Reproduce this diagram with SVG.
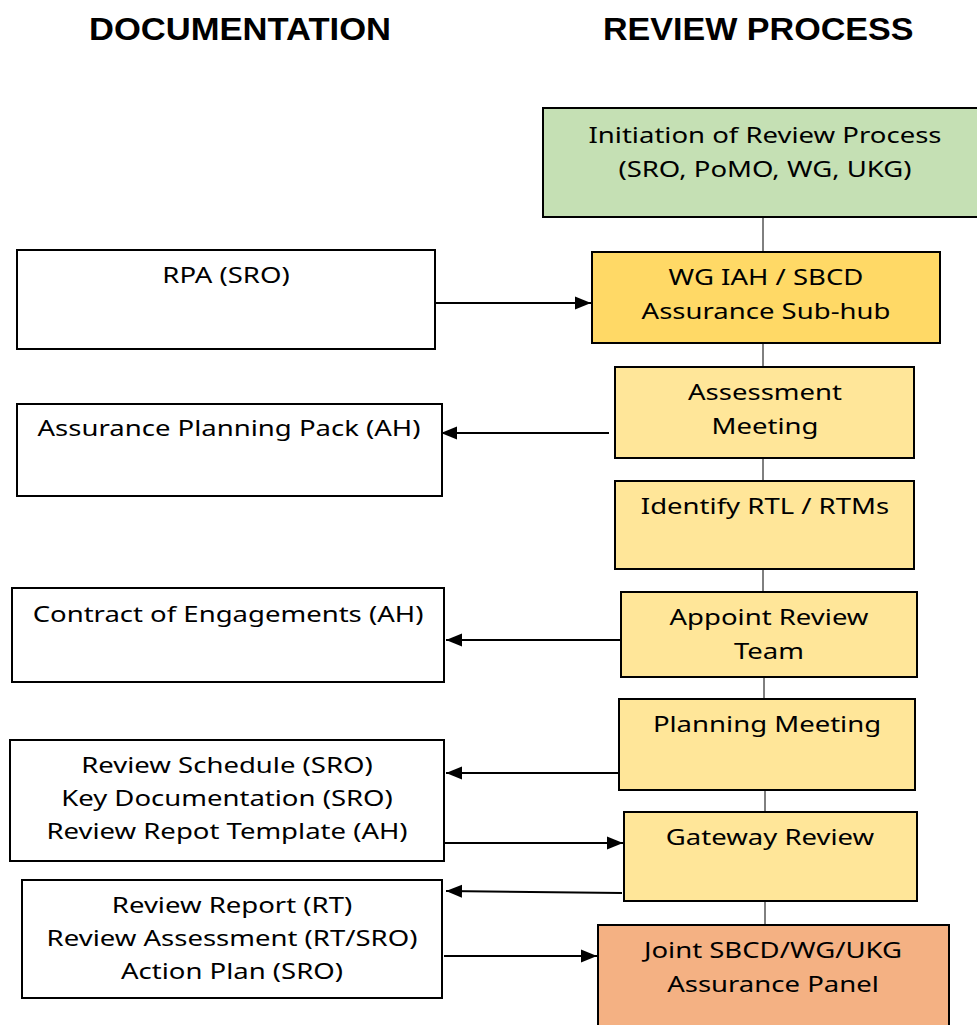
<svg xmlns="http://www.w3.org/2000/svg" width="977" height="1025" viewBox="0 0 977 1025">
<defs>
<style>
.h{font-family:"Liberation Sans",Arial,sans-serif;font-weight:bold;font-size:32px;fill:#000}
.t{font-family:"Noto Sans","Open Sans",sans-serif;font-size:21px;fill:#000;text-anchor:middle}
.b{stroke:#000;stroke-width:2}
.c{stroke:#000;stroke-width:2;fill:none}
.v{stroke:#000;stroke-width:1;fill:none}
</style>
<marker id="ah" markerWidth="16" markerHeight="14" refX="16" refY="7" orient="auto" markerUnits="userSpaceOnUse">
<path d="M0,0.5 L16,7 L0,13.5 z" fill="#000"/>
</marker>
</defs>
<rect width="977" height="1025" fill="#fff"/>
<text class="h" transform="translate(89,40) scale(1.08,1)">DOCUMENTATION</text>
<text class="h" transform="translate(603,40) scale(1.065,1)">REVIEW PROCESS</text>

<g id="connectors">
<path class="v" d="M763 217 V252 M763 343 V367 M763 458 V481 M763 569 V592 M764 677 V699 M765 790 V812 M765 901 V925"/>
<path class="c" d="M435 303 H591" marker-end="url(#ah)"/>
<path class="c" d="M609 433 H441" marker-end="url(#ah)"/>
<path class="c" d="M624 640 H446" marker-end="url(#ah)"/>
<path class="c" d="M622 773 H446" marker-end="url(#ah)"/>
<path class="c" d="M444 843 H623" marker-end="url(#ah)"/>
<path class="c" d="M622 893 L446 891" marker-end="url(#ah)"/>
<path class="c" d="M444 956 H597" marker-end="url(#ah)"/>
</g>

<g id="init"><rect class="b" x="543" y="108" width="440" height="109" fill="#c5e0b4"/>
<text class="t" transform="translate(765,143) scale(1.31,1)">Initiation of Review Process</text>
<text class="t" transform="translate(765,177) scale(1.31,1)">(SRO, PoMO, WG, UKG)</text></g>

<g id="hub"><rect class="b" x="592" y="252" width="348" height="91" fill="#ffd966"/>
<text class="t" transform="translate(766,285) scale(1.31,1)">WG IAH / SBCD</text>
<text class="t" transform="translate(766,319) scale(1.31,1)">Assurance Sub-hub</text></g>

<g id="assess"><rect class="b" x="615" y="367" width="299" height="91" fill="#ffe699"/>
<text class="t" transform="translate(765,400) scale(1.31,1)">Assessment</text>
<text class="t" transform="translate(765,434) scale(1.31,1)">Meeting</text></g>

<g id="identify"><rect class="b" x="615" y="481" width="299" height="88" fill="#ffe699"/>
<text class="t" transform="translate(765,514) scale(1.31,1)">Identify RTL / RTMs</text></g>

<g id="appoint"><rect class="b" x="621" y="592" width="296" height="85" fill="#ffe699"/>
<text class="t" transform="translate(769,625) scale(1.31,1)">Appoint Review</text>
<text class="t" transform="translate(769,659) scale(1.31,1)">Team</text></g>

<g id="planning"><rect class="b" x="619" y="699" width="296" height="91" fill="#ffe699"/>
<text class="t" transform="translate(767,732) scale(1.31,1)">Planning Meeting</text></g>

<g id="gateway"><rect class="b" x="624" y="812" width="293" height="89" fill="#ffe699"/>
<text class="t" transform="translate(770,845) scale(1.31,1)">Gateway Review</text></g>

<g id="panel"><rect class="b" x="598" y="925" width="351" height="110" fill="#f4b183"/>
<text class="t" transform="translate(773,958) scale(1.31,1)">Joint SBCD/WG/UKG</text>
<text class="t" transform="translate(773,992) scale(1.31,1)">Assurance Panel</text></g>

<g id="rpa"><rect class="b" x="17" y="250" width="418" height="99" fill="#fff"/>
<text class="t" transform="translate(226,283) scale(1.31,1)">RPA (SRO)</text></g>

<g id="app"><rect class="b" x="17" y="404" width="425" height="92" fill="#fff"/>
<text class="t" transform="translate(229,436) scale(1.31,1)">Assurance Planning Pack (AH)</text></g>

<g id="contract"><rect class="b" x="12" y="588" width="432" height="94" fill="#fff"/>
<text class="t" transform="translate(228,622) scale(1.31,1)">Contract of Engagements (AH)</text></g>

<g id="schedule"><rect class="b" x="10" y="740" width="434" height="121" fill="#fff"/>
<text class="t" transform="translate(227,773) scale(1.31,1)">Review Schedule (SRO)</text>
<text class="t" transform="translate(227,806) scale(1.31,1)">Key Documentation (SRO)</text>
<text class="t" transform="translate(227,839) scale(1.31,1)">Review Repot Template (AH)</text></g>

<g id="report"><rect class="b" x="22" y="880" width="420" height="118" fill="#fff"/>
<text class="t" transform="translate(232,913) scale(1.31,1)">Review Report (RT)</text>
<text class="t" transform="translate(232,946) scale(1.31,1)">Review Assessment (RT/SRO)</text>
<text class="t" transform="translate(232,979) scale(1.31,1)">Action Plan (SRO)</text></g>
</svg>
